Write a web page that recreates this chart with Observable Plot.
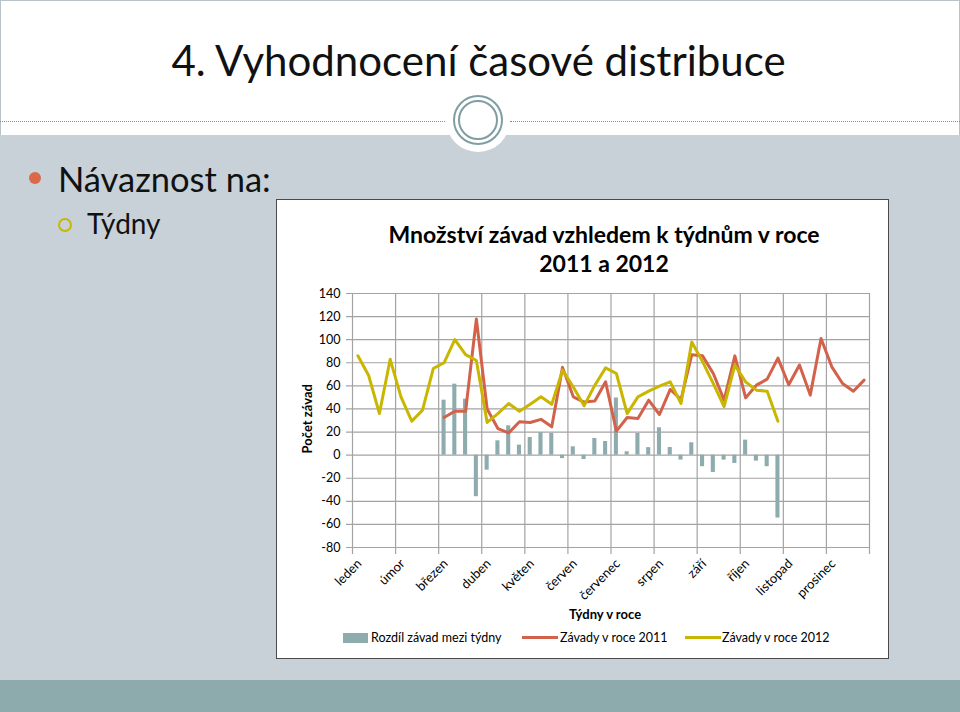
<!DOCTYPE html>
<html>
<head>
<meta charset="utf-8">
<script src="https://cdn.jsdelivr.net/npm/d3@7"></script>
<script src="https://cdn.jsdelivr.net/npm/@observablehq/plot@0.6"></script>
<style>
  html, body { margin: 0; padding: 0; }
  body { width: 960px; height: 712px; overflow: hidden; font-family: Lato, "Open Sans", sans-serif; }
  #slide { position: relative; width: 960px; height: 712px; background: #c7d1d7; overflow: hidden; }
  .abs { position: absolute; white-space: nowrap; line-height: 1.2; }
  #top { position: absolute; left: 0; top: 0; width: 958px; height: 134px; background: #fff; border: 1px solid #b9c2c6; border-bottom: none; }
  .dots { position: absolute; top: 121px; height: 0; border-top: 1px dotted #8a8a8a; }
  #halo { position: absolute; left: 446px; top: 88px; width: 64px; height: 64px; border-radius: 50%; background: #fff; }
  .ring { position: absolute; border-radius: 50%; box-sizing: border-box; }
  #band { position: absolute; left: 0; top: 680px; width: 960px; height: 32px; background: #8dabad; }
  #box { position: absolute; left: 276px; top: 199px; width: 611px; height: 458px; background: #fff; border: 1px solid #4a4a4a; }
  #plot { position: absolute; left: 276px; top: 283px; }
  .leg { position: absolute; font-size: 12.5px; line-height: 1.2; white-space: nowrap; }
</style>
</head>
<body>
<div id="slide">
  <div id="top"></div>
  <div class="dots" style="left:0;width:447px"></div>
  <div class="dots" style="left:510px;width:450px"></div>
  <div id="halo"></div>
  <div class="ring" style="left:453px;top:95px;width:50px;height:50px;border:2.5px solid #7f9ea2"></div>
  <div class="ring" style="left:458px;top:100px;width:40px;height:40px;border:2px solid #7f9ea2"></div>
  <div class="abs" style="left:0;width:957px;text-align:center;top:35px;font-size:42px;font-weight:400;color:#111">4. Vyhodnocení časové distribuce</div>

  <div class="ring" style="left:29px;top:172px;width:12px;height:12px;background:#d9694a"></div>
  <div class="abs" style="left:58px;top:158px;font-size:34.5px;color:#111">Návaznost na:</div>
  <div class="ring" style="left:58px;top:218px;width:14px;height:14px;border:2px solid #c9b800"></div>
  <div class="abs" style="left:87px;top:207px;font-size:28px;color:#111">Týdny</div>

  <div id="band"></div>
  <div id="box"></div>
  <div class="abs" style="left:304px;width:600px;text-align:center;top:220px;font-size:23px;font-weight:700;line-height:29px">Množství závad vzhledem k týdnům v roce<br>2011 a 2012</div>
  <div class="abs" style="left:258px;top:411px;width:100px;text-align:center;font-size:13px;font-weight:700;transform:rotate(-90deg)">Počet závad</div>
  <div id="plot"></div>
  <div class="abs" style="left:505px;width:200px;text-align:center;top:607px;font-size:13px;font-weight:700">Týdny v roce</div>

  <div style="position:absolute;left:343px;top:633px;width:25px;height:10px;background:#8eacae"></div>
  <div class="leg" style="left:371px;top:630px">Rozdíl závad mezi týdny</div>
  <div style="position:absolute;left:522px;top:636px;width:36px;height:3px;background:#d2624a"></div>
  <div class="leg" style="left:560px;top:630px">Závady v roce 2011</div>
  <div style="position:absolute;left:685px;top:636px;width:36px;height:3px;background:#c9b600"></div>
  <div class="leg" style="left:722px;top:630px">Závady v roce 2012</div>
</div>
<script>
// ---- data (48 weeks: 4 per month) ----
const months = ["leden","úmor","březen","duben","květen","červen","červenec","srpen","září","říjen","listopad","prosinec"];
const yTicks = [-80,-60,-40,-20,0,20,40,60,80,100,120,140];
const weeksPerMonth = 4;
// Závady v roce 2011 (starts week index 8)
const zavady2011 = [null,null,null,null,null,null,null,null,
  32.6,38,38,118,40,23,19.3,28.9,28.3,31,24.5,76,50.5,46,46.8,63.5,
  20.8,32.6,31.7,47.6,35.2,56.9,48.2,87,86,70.7,47.6,86,49.6,60.6,65.8,84,
  61,78,52,101,76.5,62,55.4,65];
// Závady v roce 2012 (weeks 0–39)
const zavady2012 = [86,69,36,83,50.5,29.4,39,75,80,100,87,82,28.3,36,44.7,38,
  44,50.5,44,73.6,59,42.7,60.6,75.6,70.7,36,50.5,55.4,59.7,63.5,44.7,98,
  81,62,42,78,63.5,56.3,55.4,29.4];
// Rozdíl závad mezi týdny (weeks 8–39)
const rozdil = [null,null,null,null,null,null,null,null,
  47.6,61.5,48.5,-36,-13,12.4,25.4,8.7,15.3,19.5,18.8,-3,7.2,-3.8,14.4,11.8,
  49.5,2.9,18.8,6.5,23.7,6.6,-4.3,10.7,-10,-15,-4.3,-7.2,13,-5.2,-10,-54.5];

const cBar = "#8eacae", c2011 = "#d2624a", c2012 = "#c9b600", cGrid = "#a3a3a3";

const rows = (arr) => arr.map((v, i) => ({week: i, v})).filter(d => d.v !== null);
const monthStarts = d3.range(months.length + 1).map(m => m * weeksPerMonth);
const monthRows = months.map((name, m) => ({name, start: m * weeksPerMonth}));

const chart = Plot.plot({
  width: 613,
  height: 322,
  marginLeft: 76,
  marginRight: 20,
  marginTop: 10,
  marginBottom: 58,
  style: {fontFamily: "Lato, 'Open Sans', sans-serif", fontSize: "12.5px", color: "#000", background: "transparent"},
  x: {domain: [0, months.length * weeksPerMonth], axis: null},
  y: {domain: [-80, 140], ticks: yTicks, tickSize: 0, tickPadding: 12, tickFormat: d => String(d), label: null},
  marks: [
    Plot.ruleY(yTicks, {stroke: cGrid, strokeWidth: 1.2, insetLeft: -6}),
    Plot.ruleX(monthStarts, {stroke: cGrid, strokeWidth: 1.2, insetBottom: -7}),
    Plot.rectY(rows(rozdil), {x1: d => d.week + 0.31, x2: d => d.week + 0.69, y1: 0, y2: "v", fill: cBar}),
    Plot.line(rows(zavady2011), {x: d => d.week + 0.5, y: "v", stroke: c2011, strokeWidth: 3, strokeLinejoin: "round"}),
    Plot.line(rows(zavady2012), {x: d => d.week + 0.5, y: "v", stroke: c2012, strokeWidth: 3, strokeLinejoin: "round"}),
    Plot.text(monthRows, {x: "start", y: -80, text: "name", rotate: -45, textAnchor: "end", dx: 7, dy: 14, fontSize: 13, fill: "#000"})
  ]
});
document.getElementById("plot").appendChild(chart);
</script>
</body>
</html>
